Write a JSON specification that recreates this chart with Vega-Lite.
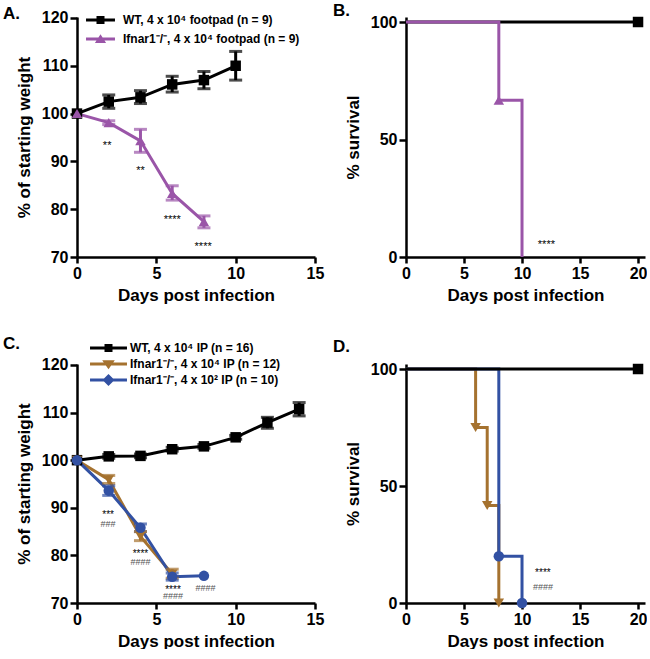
{
  "$schema": "https://vega.github.io/schema/vega-lite/v6.json",
  "background": "white",
  "padding": {"left": 3, "top": 2, "right": 0, "bottom": 0},
  "columns": 2,
  "spacing": {"row": 107, "column": 91},
  "bounds": "flush",
  "resolve": {"scale": {"color": "independent", "shape": "independent"}, "legend": {"color": "independent", "shape": "independent"}},
  "datasets": {
    "a": [
      {"group": "WT, 4 x 10⁴ footpad (n = 9)", "day": 0, "mean": 100},
      {"group": "WT, 4 x 10⁴ footpad (n = 9)", "day": 2, "mean": 102.5, "lo": 101.1, "hi": 103.9},
      {"group": "WT, 4 x 10⁴ footpad (n = 9)", "day": 4, "mean": 103.4, "lo": 102.1, "hi": 104.8},
      {"group": "WT, 4 x 10⁴ footpad (n = 9)", "day": 6, "mean": 106.1, "lo": 104.5, "hi": 107.8},
      {"group": "WT, 4 x 10⁴ footpad (n = 9)", "day": 8, "mean": 107.0, "lo": 105.2, "hi": 108.8},
      {"group": "WT, 4 x 10⁴ footpad (n = 9)", "day": 10, "mean": 110.0, "lo": 107.0, "hi": 113.0},
      {"group": "Ifnar1⁻/⁻, 4 x 10⁴ footpad (n = 9)", "day": 0, "mean": 100},
      {"group": "Ifnar1⁻/⁻, 4 x 10⁴ footpad (n = 9)", "day": 2, "mean": 98.1, "lo": 97.7, "hi": 98.5},
      {"group": "Ifnar1⁻/⁻, 4 x 10⁴ footpad (n = 9)", "day": 4, "mean": 94.3, "lo": 91.9, "hi": 96.7},
      {"group": "Ifnar1⁻/⁻, 4 x 10⁴ footpad (n = 9)", "day": 6, "mean": 83.3, "lo": 81.9, "hi": 84.9},
      {"group": "Ifnar1⁻/⁻, 4 x 10⁴ footpad (n = 9)", "day": 8, "mean": 77.4, "lo": 76.1, "hi": 78.6}
    ],
    "a_notes": [
      {"day": 1.9, "y": 93.9, "label": "**"},
      {"day": 4.0, "y": 88.6, "label": "**"},
      {"day": 6.0, "y": 78.4, "label": "****"},
      {"day": 7.95, "y": 72.8, "label": "****"}
    ],
    "b_lines": [
      {"group": "WT", "day": 0, "surv": 100},
      {"group": "WT", "day": 20, "surv": 100},
      {"group": "Ifnar1⁻/⁻", "day": 0, "surv": 100},
      {"group": "Ifnar1⁻/⁻", "day": 8, "surv": 66.7},
      {"group": "Ifnar1⁻/⁻", "day": 10, "surv": 0}
    ],
    "b_pts": [
      {"group": "WT", "day": 20, "surv": 100},
      {"group": "Ifnar1⁻/⁻", "day": 8, "surv": 66.7}
    ],
    "b_notes": [
      {"day": 12.1, "surv": 6.3, "label": "****"}
    ],
    "c": [
      {"group": "WT, 4 x 10⁴ IP (n = 16)", "day": 0, "mean": 100},
      {"group": "WT, 4 x 10⁴ IP (n = 16)", "day": 2, "mean": 100.8, "lo": 100.4, "hi": 101.2},
      {"group": "WT, 4 x 10⁴ IP (n = 16)", "day": 4, "mean": 100.9, "lo": 100.5, "hi": 101.3},
      {"group": "WT, 4 x 10⁴ IP (n = 16)", "day": 6, "mean": 102.3, "lo": 101.9, "hi": 102.7},
      {"group": "WT, 4 x 10⁴ IP (n = 16)", "day": 8, "mean": 102.9, "lo": 102.5, "hi": 103.3},
      {"group": "WT, 4 x 10⁴ IP (n = 16)", "day": 10, "mean": 104.8, "lo": 104.4, "hi": 105.2},
      {"group": "WT, 4 x 10⁴ IP (n = 16)", "day": 12, "mean": 107.9, "lo": 106.7, "hi": 109.0},
      {"group": "WT, 4 x 10⁴ IP (n = 16)", "day": 14, "mean": 110.7, "lo": 109.3, "hi": 112.1},
      {"group": "Ifnar1⁻/⁻, 4 x 10⁴ IP (n = 12)", "day": 0, "mean": 100},
      {"group": "Ifnar1⁻/⁻, 4 x 10⁴ IP (n = 12)", "day": 2, "mean": 95.9, "lo": 95.1, "hi": 96.8},
      {"group": "Ifnar1⁻/⁻, 4 x 10⁴ IP (n = 12)", "day": 4, "mean": 84.0, "lo": 83.1, "hi": 85.0},
      {"group": "Ifnar1⁻/⁻, 4 x 10⁴ IP (n = 12)", "day": 6, "mean": 76.1, "lo": 75.2, "hi": 77.1},
      {"group": "Ifnar1⁻/⁻, 4 x 10² IP (n = 10)", "day": 0, "mean": 100},
      {"group": "Ifnar1⁻/⁻, 4 x 10² IP (n = 10)", "day": 2, "mean": 93.6, "lo": 92.6, "hi": 94.6},
      {"group": "Ifnar1⁻/⁻, 4 x 10² IP (n = 10)", "day": 4, "mean": 85.8, "lo": 85.0, "hi": 86.6},
      {"group": "Ifnar1⁻/⁻, 4 x 10² IP (n = 10)", "day": 6, "mean": 75.5, "lo": 74.8, "hi": 76.3},
      {"group": "Ifnar1⁻/⁻, 4 x 10² IP (n = 10)", "day": 8, "mean": 75.7}
    ],
    "c_notes": [
      {"day": 1.96, "y": 88.9, "label": "***"},
      {"day": 1.96, "y": 86.6, "label": "###"},
      {"day": 4.0, "y": 80.7, "label": "****"},
      {"day": 4.0, "y": 78.7, "label": "####"},
      {"day": 6.05, "y": 73.1, "label": "****"},
      {"day": 6.05, "y": 71.4, "label": "####"},
      {"day": 8.1, "y": 73.1, "label": "####"}
    ],
    "d_lines": [
      {"group": "Ifnar1⁻/⁻, 4 x 10⁴", "day": 0, "surv": 100},
      {"group": "Ifnar1⁻/⁻, 4 x 10⁴", "day": 6, "surv": 75},
      {"group": "Ifnar1⁻/⁻, 4 x 10⁴", "day": 7, "surv": 41.7},
      {"group": "Ifnar1⁻/⁻, 4 x 10⁴", "day": 8, "surv": 0},
      {"group": "Ifnar1⁻/⁻, 4 x 10²", "day": 0, "surv": 100},
      {"group": "Ifnar1⁻/⁻, 4 x 10²", "day": 8, "surv": 20},
      {"group": "Ifnar1⁻/⁻, 4 x 10²", "day": 10, "surv": 0},
      {"group": "WT", "day": 0, "surv": 100},
      {"group": "WT", "day": 20, "surv": 100}
    ],
    "d_pts": [
      {"group": "WT", "day": 20, "surv": 100},
      {"group": "Ifnar1⁻/⁻, 4 x 10⁴", "day": 6, "surv": 75},
      {"group": "Ifnar1⁻/⁻, 4 x 10⁴", "day": 7, "surv": 41.7},
      {"group": "Ifnar1⁻/⁻, 4 x 10⁴", "day": 8, "surv": 0},
      {"group": "Ifnar1⁻/⁻, 4 x 10²", "day": 8, "surv": 20},
      {"group": "Ifnar1⁻/⁻, 4 x 10²", "day": 10, "surv": 0}
    ],
    "d_notes": [
      {"day": 11.8, "surv": 13.6, "label": "****"},
      {"day": 11.8, "surv": 6.7, "label": "####"}
    ]
  },
  "concat": [
    {
      "width": 238, "height": 240,
      "title": {"text": "A.", "dx": -74, "dy": 17},
      "layer": [
        {
          "data": {"name": "a"},
          "transform": [{"filter": "datum.day < 0"}],
          "mark": {"type": "point", "filled": true},
          "encoding": {
            "x": {"field": "day", "type": "quantitative", "title": "Days post infection", "scale": {"domain": [0, 15], "nice": false, "zero": false}, "axis": {"values": [0, 5, 10, 15]}},
            "y": {"field": "mean", "type": "quantitative", "title": "% of starting weight", "scale": {"domain": [70, 120.2], "nice": false, "zero": false}, "axis": {"values": [70, 80, 90, 100, 110, 120]}},
            "color": {"field": "group", "type": "nominal",
              "scale": {"domain": ["WT, 4 x 10⁴ footpad (n = 9)", "Ifnar1⁻/⁻, 4 x 10⁴ footpad (n = 9)"], "range": ["#000000", "#9a55a8"]},
              "legend": {"title": null, "orient": "none", "legendX": 15.5, "legendY": -5, "padding": 0, "symbolSize": 256, "labelOffset": 14.5, "rowPadding": 5, "labelFontSize": 12, "labelFontWeight": "bold", "labelColor": "#000", "labelLimit": 400, "symbolStrokeWidth": 0, "symbolOpacity": 1}},
            "shape": {"field": "group", "type": "nominal",
              "scale": {"domain": ["WT, 4 x 10⁴ footpad (n = 9)", "Ifnar1⁻/⁻, 4 x 10⁴ footpad (n = 9)"], "range": ["M-1.81,-0.19H1.81V0.19H-1.81Z M-0.5,-0.5H0.5V0.5H-0.5Z", "M-1.81,-0.19H1.81V0.19H-1.81Z M0,-0.6L0.7,0.5H-0.7Z"]},
              "legend": {"title": null, "orient": "none", "legendX": 15.5, "legendY": -5, "padding": 0, "symbolSize": 256, "labelOffset": 14.5, "rowPadding": 5, "labelFontSize": 12, "labelFontWeight": "bold", "labelColor": "#000", "labelLimit": 400, "symbolStrokeWidth": 0, "symbolOpacity": 1}}
          }
        },
        {
          "data": {"name": "a"},
          "mark": {"type": "line", "strokeWidth": 3},
          "encoding": {
            "x": {"field": "day", "type": "quantitative", "title": "Days post infection"},
            "y": {"field": "mean", "type": "quantitative", "title": "% of starting weight"},
            "detail": {"field": "group"},
            "color": {"condition": {"test": "indexof(datum.group,'WT')===0", "value": "#000000"}, "value": "#9a55a8"}
          }
        },
        {
          "data": {"name": "a"},
          "mark": {"type": "rule", "strokeWidth": 3},
          "encoding": {
            "x": {"field": "day", "type": "quantitative", "title": "Days post infection"},
            "y": {"field": "lo", "type": "quantitative", "title": "% of starting weight"},
            "y2": {"field": "hi"},
            "color": {"condition": {"test": "indexof(datum.group,'WT')===0", "value": "#000000"}, "value": "#9a55a8"}
          }
        },
        {
          "data": {"name": "a"},
          "mark": {"type": "tick", "orient": "horizontal", "size": 13, "thickness": 3},
          "encoding": {
            "x": {"field": "day", "type": "quantitative", "title": "Days post infection"},
            "y": {"field": "lo", "type": "quantitative", "title": "% of starting weight"},
            "color": {"condition": {"test": "indexof(datum.group,'WT')===0", "value": "#000000"}, "value": "#9a55a8"}
          }
        },
        {
          "data": {"name": "a"},
          "mark": {"type": "tick", "orient": "horizontal", "size": 13, "thickness": 3},
          "encoding": {
            "x": {"field": "day", "type": "quantitative", "title": "Days post infection"},
            "y": {"field": "hi", "type": "quantitative", "title": "% of starting weight"},
            "color": {"condition": {"test": "indexof(datum.group,'WT')===0", "value": "#000000"}, "value": "#9a55a8"}
          }
        },
        {
          "data": {"name": "a"},
          "mark": {"type": "point", "filled": true, "size": 110, "opacity": 1},
          "encoding": {
            "x": {"field": "day", "type": "quantitative", "title": "Days post infection"},
            "y": {"field": "mean", "type": "quantitative", "title": "% of starting weight"},
            "color": {"condition": {"test": "indexof(datum.group,'WT')===0", "value": "#000000"}, "value": "#9a55a8"},
            "shape": {"condition": {"test": "indexof(datum.group,'WT')===0", "value": "square"}, "value": "triangle-up"}
          }
        },
        {
          "data": {"name": "a_notes"},
          "mark": {"type": "text", "fontSize": 11, "dy": 3, "fill": "#000000", "baseline": "middle"},
          "encoding": {
            "x": {"field": "day", "type": "quantitative", "title": "Days post infection"},
            "y": {"field": "y", "type": "quantitative", "title": "% of starting weight"},
            "text": {"field": "label"}
          }
        }
      ]
    },
    {
      "width": 239, "height": 240,
      "title": {"text": "B.", "dx": -73, "dy": 10},
      "layer": [
        {
          "data": {"name": "b_lines"},
          "mark": {"type": "line", "strokeWidth": 3, "interpolate": "step-after"},
          "encoding": {
            "x": {"field": "day", "type": "quantitative", "title": "Days post infection", "scale": {"domain": [0, 20.6], "nice": false, "zero": false}, "axis": {"values": [0, 5, 10, 15, 20]}},
            "y": {"field": "surv", "type": "quantitative", "title": "% survival", "scale": {"domain": [0, 102.13], "nice": false, "zero": false}, "axis": {"values": [0, 50, 100]}},
            "detail": {"field": "group"},
            "color": {"condition": {"test": "datum.group === 'WT'", "value": "#000000"}, "value": "#9a55a8"}
          }
        },
        {
          "data": {"name": "b_pts"},
          "mark": {"type": "point", "filled": true, "size": 110, "opacity": 1},
          "encoding": {
            "x": {"field": "day", "type": "quantitative", "title": "Days post infection"},
            "y": {"field": "surv", "type": "quantitative", "title": "% survival"},
            "color": {"condition": {"test": "datum.group === 'WT'", "value": "#000000"}, "value": "#9a55a8"},
            "shape": {"condition": {"test": "datum.group === 'WT'", "value": "square"}, "value": "triangle-up"}
          }
        },
        {
          "data": {"name": "b_notes"},
          "mark": {"type": "text", "fontSize": 11, "dy": 3, "fill": "#000000", "baseline": "middle"},
          "encoding": {
            "x": {"field": "day", "type": "quantitative", "title": "Days post infection"},
            "y": {"field": "surv", "type": "quantitative", "title": "% survival"},
            "text": {"field": "label"}
          }
        }
      ]
    },
    {
      "width": 238, "height": 239,
      "title": {"text": "C.", "dx": -74, "dy": 16},
      "layer": [
        {
          "data": {"name": "c"},
          "transform": [{"filter": "datum.day < 0"}],
          "mark": {"type": "point", "filled": true},
          "encoding": {
            "x": {"field": "day", "type": "quantitative", "title": "Days post infection", "scale": {"domain": [0, 15], "nice": false, "zero": false}, "axis": {"values": [0, 5, 10, 15]}},
            "y": {"field": "mean", "type": "quantitative", "title": "% of starting weight", "scale": {"domain": [70, 120.2], "nice": false, "zero": false}, "axis": {"values": [70, 80, 90, 100, 110, 120]}},
            "color": {"field": "group", "type": "nominal",
              "scale": {"domain": ["WT, 4 x 10⁴ IP (n = 16)", "Ifnar1⁻/⁻, 4 x 10⁴ IP (n = 12)", "Ifnar1⁻/⁻, 4 x 10² IP (n = 10)"], "range": ["#000000", "#a5722f", "#3251a3"]},
              "legend": {"title": null, "orient": "none", "legendX": 24.5, "legendY": -23, "padding": 0, "symbolSize": 196, "labelOffset": 14.5, "rowPadding": 3, "labelFontSize": 12, "labelFontWeight": "bold", "labelColor": "#000", "labelLimit": 400, "symbolStrokeWidth": 0, "symbolOpacity": 1}},
            "shape": {"field": "group", "type": "nominal",
              "scale": {"domain": ["WT, 4 x 10⁴ IP (n = 16)", "Ifnar1⁻/⁻, 4 x 10⁴ IP (n = 12)", "Ifnar1⁻/⁻, 4 x 10² IP (n = 10)"], "range": ["M-2.64,-0.21H2.64V0.21H-2.64Z M-0.57,-0.57H0.57V0.57H-0.57Z", "M-2.64,-0.21H2.64V0.21H-2.64Z M-0.9,-0.55H0.9L0,0.75Z", "M-2.64,-0.21H2.64V0.21H-2.64Z M0,-0.86L0.86,0L0,0.86L-0.86,0Z"]},
              "legend": {"title": null, "orient": "none", "legendX": 24.5, "legendY": -23, "padding": 0, "symbolSize": 196, "labelOffset": 14.5, "rowPadding": 3, "labelFontSize": 12, "labelFontWeight": "bold", "labelColor": "#000", "labelLimit": 400, "symbolStrokeWidth": 0, "symbolOpacity": 1}}
          }
        },
        {
          "data": {"name": "c"},
          "mark": {"type": "line", "strokeWidth": 3},
          "encoding": {
            "x": {"field": "day", "type": "quantitative", "title": "Days post infection"},
            "y": {"field": "mean", "type": "quantitative", "title": "% of starting weight"},
            "detail": {"field": "group"},
            "color": {"condition": [{"test": "indexof(datum.group,'WT')===0", "value": "#000000"}, {"test": "indexof(datum.group,'10²')>=0", "value": "#3251a3"}], "value": "#a5722f"}
          }
        },
        {
          "data": {"name": "c"},
          "mark": {"type": "rule", "strokeWidth": 3},
          "encoding": {
            "x": {"field": "day", "type": "quantitative", "title": "Days post infection"},
            "y": {"field": "lo", "type": "quantitative", "title": "% of starting weight"},
            "y2": {"field": "hi"},
            "color": {"condition": [{"test": "indexof(datum.group,'WT')===0", "value": "#000000"}, {"test": "indexof(datum.group,'10²')>=0", "value": "#3251a3"}], "value": "#a5722f"}
          }
        },
        {
          "data": {"name": "c"},
          "mark": {"type": "tick", "orient": "horizontal", "size": 13, "thickness": 3},
          "encoding": {
            "x": {"field": "day", "type": "quantitative", "title": "Days post infection"},
            "y": {"field": "lo", "type": "quantitative", "title": "% of starting weight"},
            "color": {"condition": [{"test": "indexof(datum.group,'WT')===0", "value": "#000000"}, {"test": "indexof(datum.group,'10²')>=0", "value": "#3251a3"}], "value": "#a5722f"}
          }
        },
        {
          "data": {"name": "c"},
          "mark": {"type": "tick", "orient": "horizontal", "size": 13, "thickness": 3},
          "encoding": {
            "x": {"field": "day", "type": "quantitative", "title": "Days post infection"},
            "y": {"field": "hi", "type": "quantitative", "title": "% of starting weight"},
            "color": {"condition": [{"test": "indexof(datum.group,'WT')===0", "value": "#000000"}, {"test": "indexof(datum.group,'10²')>=0", "value": "#3251a3"}], "value": "#a5722f"}
          }
        },
        {
          "data": {"name": "c"},
          "mark": {"type": "point", "filled": true, "size": 110, "opacity": 1},
          "encoding": {
            "x": {"field": "day", "type": "quantitative", "title": "Days post infection"},
            "y": {"field": "mean", "type": "quantitative", "title": "% of starting weight"},
            "color": {"condition": [{"test": "indexof(datum.group,'WT')===0", "value": "#000000"}, {"test": "indexof(datum.group,'10²')>=0", "value": "#3251a3"}], "value": "#a5722f"},
            "shape": {"condition": [{"test": "indexof(datum.group,'WT')===0", "value": "square"}, {"test": "indexof(datum.group,'10²')>=0", "value": "circle"}], "value": "triangle-down"}
          }
        },
        {
          "data": {"name": "c_notes"},
          "transform": [{"filter": "indexof(datum.label,'*')===0"}],
          "mark": {"type": "text", "fontSize": 10, "dy": 2, "fill": "#000000", "baseline": "middle"},
          "encoding": {
            "x": {"field": "day", "type": "quantitative", "title": "Days post infection"},
            "y": {"field": "y", "type": "quantitative", "title": "% of starting weight"},
            "text": {"field": "label"}
          }
        },
        {
          "data": {"name": "c_notes"},
          "transform": [{"filter": "indexof(datum.label,'#')===0"}],
          "mark": {"type": "text", "fontSize": 9, "fill": "#555555", "baseline": "middle"},
          "encoding": {
            "x": {"field": "day", "type": "quantitative", "title": "Days post infection"},
            "y": {"field": "y", "type": "quantitative", "title": "% of starting weight"},
            "text": {"field": "label"}
          }
        }
      ]
    },
    {
      "width": 239, "height": 239,
      "title": {"text": "D.", "dx": -73, "dy": -1},
      "layer": [
        {
          "data": {"name": "d_lines"},
          "mark": {"type": "line", "strokeWidth": 3, "interpolate": "step-after"},
          "encoding": {
            "x": {"field": "day", "type": "quantitative", "title": "Days post infection", "scale": {"domain": [0, 20.6], "nice": false, "zero": false}, "axis": {"values": [0, 5, 10, 15, 20]}},
            "y": {"field": "surv", "type": "quantitative", "title": "% survival", "scale": {"domain": [0, 102.14], "nice": false, "zero": false}, "axis": {"values": [0, 50, 100]}},
            "detail": {"field": "group"},
            "color": {"condition": [{"test": "datum.group === 'WT'", "value": "#000000"}, {"test": "indexof(datum.group,'10²')>=0", "value": "#3251a3"}], "value": "#a5722f"}
          }
        },
        {
          "data": {"name": "d_pts"},
          "mark": {"type": "point", "filled": true, "size": 110, "opacity": 1},
          "encoding": {
            "x": {"field": "day", "type": "quantitative", "title": "Days post infection"},
            "y": {"field": "surv", "type": "quantitative", "title": "% survival"},
            "color": {"condition": [{"test": "datum.group === 'WT'", "value": "#000000"}, {"test": "indexof(datum.group,'10²')>=0", "value": "#3251a3"}], "value": "#a5722f"},
            "shape": {"condition": [{"test": "datum.group === 'WT'", "value": "square"}, {"test": "indexof(datum.group,'10²')>=0", "value": "circle"}], "value": "triangle-down"}
          }
        },
        {
          "data": {"name": "d_notes"},
          "transform": [{"filter": "indexof(datum.label,'*')===0"}],
          "mark": {"type": "text", "fontSize": 10, "dy": 2, "fill": "#000000", "baseline": "middle"},
          "encoding": {
            "x": {"field": "day", "type": "quantitative", "title": "Days post infection"},
            "y": {"field": "surv", "type": "quantitative", "title": "% survival"},
            "text": {"field": "label"}
          }
        },
        {
          "data": {"name": "d_notes"},
          "transform": [{"filter": "indexof(datum.label,'#')===0"}],
          "mark": {"type": "text", "fontSize": 9, "fill": "#555555", "baseline": "middle"},
          "encoding": {
            "x": {"field": "day", "type": "quantitative", "title": "Days post infection"},
            "y": {"field": "surv", "type": "quantitative", "title": "% survival"},
            "text": {"field": "label"}
          }
        }
      ]
    }
  ],
  "config": {
    "font": "Liberation Sans",
    "view": {"stroke": null},
    "title": {"fontSize": 17, "fontWeight": "bold", "color": "#000000", "anchor": "start", "frame": "group", "offset": 0},
    "axis": {"grid": false, "domainColor": "#000000", "domainWidth": 2.5, "tickColor": "#000000", "tickWidth": 2.5, "tickSize": 7, "labelFontSize": 16, "labelFontWeight": "bold", "labelColor": "#000000", "labelPadding": 2, "titleFontSize": 17, "titleFontWeight": "bold", "titleColor": "#000000"},
    "axisX": {"tickSize": 6, "titlePadding": 6, "labelFlush": false, "labelOverlap": false},
    "axisY": {"titlePadding": 8, "labelOverlap": false}
  }
}
